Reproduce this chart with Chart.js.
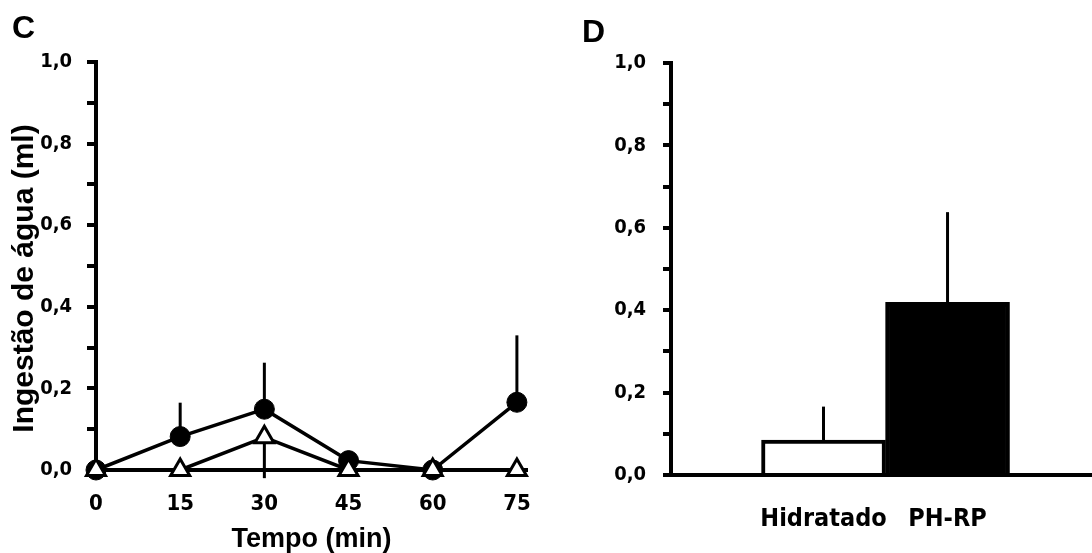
<!DOCTYPE html>
<html>
<head>
<meta charset="utf-8">
<script src="https://cdn.jsdelivr.net/npm/chart.js@4"></script>
<style>
  body { margin: 0; background: #fff; }
  .panel { position: absolute; top: 0; }
  .letter { position: absolute; font: bold 32px 'Liberation Sans', Arial, sans-serif; line-height: 1; color: #000; }
</style>
</head>
<body>
<div class="panel" style="left:0"><canvas id="lineChart" width="560" height="553"></canvas></div>
<div class="panel" style="left:560px"><canvas id="barChart" width="532" height="553"></canvas></div>
<div class="letter" style="left:12px;top:11px">C</div>
<div class="letter" style="left:582px;top:15px">D</div>
<script>
// Panel C - water intake over time
const timePoints = [0, 15, 30, 45, 60, 75];
const phrpMean = [0, 0.082, 0.149, 0.023, 0, 0.166];
const phrpErr = [0, 0.083, 0.114, 0, 0, 0.164];
const hidrMean = [0, 0, 0.08, 0, 0, 0];
const hidrErr = [0, 0, 0.1, 0, 0, 0];

// Panel D - total intake
const groups = ['Hidratado', 'PH-RP'];
const groupMean = [0.085, 0.419];
const groupErr = [0.081, 0.219];

const NARROW = "'Liberation Sans Narrow', 'DejaVu Sans Condensed', 'Arial Narrow', sans-serif";
const ARIAL = "'Liberation Sans', Arial, sans-serif";

const commaTick = (v) => {
    const r = Math.round(v * 10);
    return r % 2 === 0 ? (r / 10).toFixed(1).replace('.', ',') : '';
};

// draws the SEM lines, up or down depending on dataset.errorDir
const errorBarPlugin = {
    id: 'errorBars',
    beforeDatasetsDraw: (chart) => {
        const ctx = chart.ctx;
        const yScale = chart.scales.y;
        ctx.save();
        ctx.strokeStyle = '#000';
        ctx.lineWidth = 3;
        chart.data.datasets.forEach((ds, i) => {
            if (!ds.errors) return;
            const meta = chart.getDatasetMeta(i);
            meta.data.forEach((el, j) => {
                const err = ds.errors[j];
                if (!err) return;
                const v = ds.data[j].y;
                ctx.beginPath();
                ctx.moveTo(el.x, yScale.getPixelForValue(v));
                ctx.lineTo(el.x, yScale.getPixelForValue(v + ds.errorDir * err));
                ctx.stroke();
            });
        });
        ctx.restore();
    }
};

const yAxis = (width, tickLen, pad, title) => ({
    min: 0,
    max: 1,
    ticks: {
        stepSize: 0.1,
        color: '#000',
        padding: pad,
        font: { family: NARROW, size: 20, weight: 'bold' },
        callback: commaTick
    },
    grid: { drawOnChartArea: false, tickLength: tickLen, lineWidth: 4, color: '#000' },
    border: { display: true, color: '#000', width: 4 },
    title: title,
    afterFit: (s) => { s.width = width; }
});

const lineCtx = document.getElementById('lineChart').getContext('2d');
const lineChart = new Chart(lineCtx, {
    type: 'line',
    data: {
        datasets: [{
            label: 'Hidratado',
            data: timePoints.map((t, i) => ({ x: t, y: hidrMean[i] })),
            errors: hidrErr,
            errorDir: -1,
            borderColor: '#000',
            borderWidth: 3.5,
            pointStyle: 'triangle',
            pointRadius: 11,
            pointBorderWidth: 3,
            pointBackgroundColor: '#fff',
            pointBorderColor: '#000',
            clip: false,
            order: 0
        }, {
            label: 'PH-RP',
            data: timePoints.map((t, i) => ({ x: t, y: phrpMean[i] })),
            errors: phrpErr,
            errorDir: 1,
            borderColor: '#000',
            borderWidth: 3.5,
            pointStyle: 'circle',
            pointRadius: 10,
            pointBorderWidth: 1,
            pointBackgroundColor: '#000',
            pointBorderColor: '#000',
            clip: false,
            order: 1
        }]
    },
    options: {
        responsive: false,
        animation: false,
        layout: { padding: { top: 62, right: 33 } },
        scales: {
            x: {
                type: 'linear',
                min: 0,
                max: 76.8,
                ticks: {
                    stepSize: 15,
                    includeBounds: false,
                    color: '#000',
                    padding: 21,
                    font: { family: NARROW, size: 22, weight: 'bold' }
                },
                grid: { display: false, drawTicks: false },
                border: { display: true, color: '#000', width: 4 },
                title: {
                    display: true,
                    text: 'Tempo (min)',
                    color: '#000',
                    font: { family: ARIAL, size: 27, weight: 'bold', lineHeight: 1 },
                    padding: { top: 0, bottom: 0 }
                },
                afterFit: (s) => { s.height = 83; }
            },
            y: yAxis(96, 9, 15, {
                display: true,
                // trailing spaces push the title a little lower along the axis, like the original
                text: 'Ingestão de água (ml)   ',
                color: '#000',
                font: { family: ARIAL, size: 30, weight: 'bold' },
                padding: { top: 7, bottom: 0 }
            })
        },
        plugins: {
            legend: { display: false },
            tooltip: { enabled: false }
        }
    },
    plugins: [errorBarPlugin]
});

const barCtx = document.getElementById('barChart').getContext('2d');
const barChart = new Chart(barCtx, {
    type: 'bar',
    data: {
        datasets: [{
            label: 'Ingestão total',
            data: groups.map((g, i) => ({ x: i, y: groupMean[i] })),
            errors: groupErr,
            errorDir: 1,
            backgroundColor: ['#fff', '#000'],
            borderColor: '#000',
            borderWidth: 4,
            barPercentage: 1,
            categoryPercentage: 1
        }]
    },
    options: {
        responsive: false,
        animation: false,
        layout: { padding: { top: 63, right: 0 } },
        scales: {
            x: {
                type: 'linear',
                offset: false,
                min: -1.23,
                max: 2.165,
                afterBuildTicks: (s) => { s.ticks = groups.map((g, i) => ({ value: i })); },
                ticks: {
                    autoSkip: false,
                    maxRotation: 0,
                    color: '#000',
                    padding: 29,
                    font: { family: NARROW, size: 25, weight: 'bold' },
                    callback: (v) => groups[v]
                },
                grid: { display: false, drawTicks: false, offset: false },
                border: { display: true, color: '#000', width: 4 },
                afterFit: (s) => { s.height = 78; }
            },
            y: yAxis(111, 8, 17, { display: false })
        },
        plugins: {
            legend: { display: false },
            tooltip: { enabled: false }
        }
    },
    plugins: [errorBarPlugin]
});
</script>
</body>
</html>
